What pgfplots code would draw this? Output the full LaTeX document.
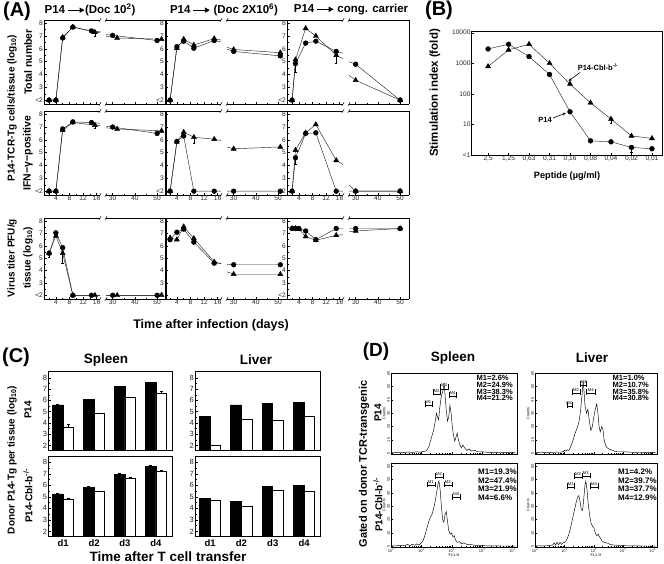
\documentclass[border=0pt]{standalone}
\usepackage{fontspec}
\setmainfont{Liberation Sans}
\usepackage{pgfplots}
\pgfplotsset{compat=1.18}
\usetikzlibrary{arrows.meta}

\newcommand{\fs}[1]{\fontsize{#1}{#1}\selectfont}
\newcommand{\arr}{\tikz[baseline=-0.6ex]\draw[line width=1pt,-{Triangle[length=5pt,width=5pt]}] (0,0)--(17pt,0);}

\pgfplotsset{
  base/.style={scale only axis, anchor=north west,
    tick align=inside,
    axis line style={black, line width=0.5pt},
    tick style={black, line width=0.4pt},
    /pgf/number format/assume math mode=true,
    ticklabel style={font=\fs{6.6}, black!85, inner sep=1pt}},
  AL/.style={base, width=56pt, xmin=0.5, xmax=17, ymin=1.7, ymax=8.25,
    axis x line*=box, axis y line*=left,
    x axis line style={-}, y axis line style={-},
    xtick={4,8,12,16}, minor xtick={2,6,10,14},
    ytick={2,...,8}, yticklabels={{<2},3,4,5,6,7,8}, minor y tick num=1,
    xtick pos=bottom, ytick pos=left,
    major tick length=2.5pt, minor tick length=1.5pt},
  AR/.style={base, width=60pt, xmin=27, xmax=54, ymin=1.7, ymax=8.25,
    axis x line*=box, axis y line*=right,
    x axis line style={-}, y axis line style={-},
    xtick={30,40,50}, minor xtick={35,45}, ytick=\empty,
    xtick pos=bottom,
    major tick length=2.5pt, minor tick length=1.5pt},
  cs/.style={black!85, line width=0.45pt, mark=*, mark size=2.4pt,
    mark options={solid, fill=black, draw=black},
    error bars/y dir=minus, error bars/y explicit,
    error bars/error bar style={black, line width=0.4pt},
    error bars/error mark options={rotate=90, mark size=1.2pt, black}},
  ts/.style={cs, mark=triangle*, mark size=2.9pt},
  Cb/.style={base, width=124pt, height=79pt, ymin=1.6, ymax=8.6,
    xmin=0.52, xmax=4.53, ybar, bar width=0.34,
    ytick={2,...,8}, minor y tick num=1, ytick pos=left, xtick=\empty,
    major tick length=2.5pt, minor tick length=1.5pt,
    ticklabel style={font=\fs{7.5}}},
  Cbot/.style={xtick={1,2,3,4}, xticklabels={d1,d2,d3,d4},
    xticklabel style={font=\fs{9.5}\bfseries, black}, xtick style={draw=none}},
  bk/.style={fill=black, draw=black, line width=0.5pt, bar shift=-0.17,
    error bars/y dir=plus, error bars/y explicit,
    error bars/error bar style={black, line width=0.4pt},
    error bars/error mark options={rotate=90, mark size=1.6pt, black}},
  wt/.style={bk, fill=white, bar shift=0.17},
  Db/.style={base, xmin=0, xmax=4.15,
    xtick={0,1,2,3,4},
    xticklabels={10\textsuperscript{0},10\textsuperscript{1},10\textsuperscript{2},10\textsuperscript{3},10\textsuperscript{4}},
    minor xtick={0.301,0.477,0.602,0.699,0.778,0.845,0.903,0.954,1.301,1.477,1.602,1.699,1.778,1.845,1.903,1.954,2.301,2.477,2.602,2.699,2.778,2.845,2.903,2.954,3.301,3.477,3.602,3.699,3.778,3.845,3.903,3.954},
    ytick={0,10,...,60}, minor y tick num=4,
    major tick length=2pt, minor tick length=1pt,
    xtick pos=bottom, ytick pos=left,
    ticklabel style={font=\fs{4}},
    yticklabel style={rotate=90, anchor=south},
    ylabel={Counts}, ylabel style={font=\fs{3.8}, yshift=-3pt}},
  Dtop/.style={Db, height=81pt, ymin=-0.7, ymax=60.3, xticklabels={}},
  Dbot/.style={Db, height=84pt, ymin=-0.5, ymax=62.5,
    xlabel={FL1-H}, xlabel style={font=\fs{3.8}, yshift=3pt}},
  hist/.style={black, line width=0.45pt, mark=none},
}

% one column of panel A: left part (days) and right part (late days), broken x axis
\newcommand{\Apair}[6]{%
  \begin{axis}[AL, at={(#1pt,-#2pt)}, height=#3pt, #4]
    \addplot[cs] coordinates {#5};
    \addplot[ts] coordinates {#6};
  \end{axis}
  \begin{axis}[AR, at={(#1pt+62pt,-#2pt)}, height=#3pt, #4]
    \addplot[cs] coordinates {#5};
    \addplot[ts] coordinates {#6};
  \end{axis}
  \foreach \bx in {56pt,62pt} {
    \draw[line width=0.5pt] (#1pt+\bx-1.1pt,-#2pt-1.8pt) -- (#1pt+\bx+1.1pt,-#2pt+1.8pt);
    \draw[line width=0.5pt] (#1pt+\bx-1.1pt,-#2pt-#3pt-1.8pt) -- (#1pt+\bx+1.1pt,-#2pt-#3pt+1.8pt);
  }
}

% marker gate in panel D
\newcommand{\gate}[5]{%
  \draw[line width=0.35pt] (axis cs:#1,#4) -- (axis cs:#2,#4);
  \draw[line width=0.35pt] (axis cs:#1,#4) ++(0,-2.5pt) -- ++(0,5pt);
  \draw[line width=0.35pt] (axis cs:#2,#4) ++(0,-2.5pt) -- ++(0,5pt);
  \node[font=\fs{4.2}, inner sep=0.4pt, anchor=south, yshift=1.2pt] at (axis cs:#3,#4) {#5};
}

\begin{document}
\begin{tikzpicture}
\path[use as bounding box] (0pt,0pt) rectangle (664pt,-564pt);

% ---------------- Panel A ----------------
% P14 -> Doc 10^2
\Apair{44}{20}{84}{xticklabels={}}
  {(2,2) (4,2) (6,6.85) (9,7.7) (14.5,7.4) (30,7.05) (50,6.65)}
  {(2,2) (4,2) (6,6.9) (9,7.7) (15.5,7.3) +- (0,0.3) (32,6.85) (52,6.75)}
\Apair{44}{111}{84}{}
  {(2,2) (4,2) (6,6.85) (9,7.4) (14.5,7.35) (30,7.0) (50,6.5)}
  {(2,2) (4,2) (6,6.75) (9,7.35) (15.5,7.15) +- (0,0.25) (32,6.85) (52,6.7)}
\Apair{44}{218}{81}{}
  {(2,5.4) +- (0,0.35) (4,7.05) (6,5.85) (9,2) (14.5,2) (30,2) (50,2)}
  {(2,5.4) (4,6.8) (6,5.4) +- (0,0.8) (9,2) (15.5,2) (32,2) (52,2)}
% P14 -> Doc 2x10^6
\Apair{165}{20}{84}{xticklabels={}}
  {(2,2) (4,6.17) (6,6.6) (9,6.05) (15,6.65) (30,5.8) (51,5.45)}
  {(2,2) (4,6.05) (6,6.75) (9,6.3) (15,6.8) (30,5.95) (51,5.7)}
\Apair{165}{111}{84}{}
  {(2,2) (4,5.87) (6,6.3) (9,2) (15,2) (30,2) (51,2)}
  {(2,2) (4,5.85) (6,6.6) (9,6.2) +- (0,0.45) (15,6.05) (30,5.3) (51,5.45)}
\Apair{165}{218}{81}{}
  {(2,6.5) (4,7.1) (6,7.35) (9,6.3) (15,4.6) (30,4.47) (51,4.47)}
  {(2,6.65) (4,6.5) (6,7.55) (9,6.6) (15,4.7) (30,3.7) (51,3.7)}
% P14 -> congenic carrier
\Apair{287}{20}{84}{xticklabels={}}
  {(2,2) (3,4.85) +- (0,0.7) (6,6.45) (9,6.6) (15,5.8) (30,4.8) (50,2)}
  {(2,2) (3,5.15) (6,7.6) (9,7.0) (15,5.5) +- (0,0.6) (30,3.55) (50,2)}
\Apair{287}{111}{84}{}
  {(2,2) (3,4.6) +- (0,0.5) (6,6.5) (9,6.55) (15,2) (30,2) (50,2)}
  {(2,2) (3,5.2) (6,6.55) (9,7.2) (15,4.4) (30,2) (50,2)}
\Apair{287}{218}{81}{}
  {(2,7.4) (3,7.4) (4,7.4) (6,7.2) (9,6.5) (15,7.4) (30,7.4) (50,7.4)}
  {(2,7.4) (3,7.4) (4,7.35) (6,6.75) (9,6.45) (15,6.85) (30,7.2) (50,7.4)}

\node[font=\fs{20}\bfseries] at (17pt,-11pt) {(A)};
\node[font=\fs{11.5}\bfseries] at (90pt,-10pt) {P14\,\arr(Doc 10\textsuperscript{2})};
\node[font=\fs{11.5}\bfseries] at (224pt,-10pt) {P14\,\arr\ (Doc 2X10\textsuperscript{6})};
\node[font=\fs{11.5}\bfseries] at (351pt,-10pt) {P14\,\arr\ cong. carrier};
\node[rotate=90, font=\fs{10.5}\bfseries] at (28pt,-62pt) {Total number};
\node[rotate=90, font=\fs{10.5}\bfseries] at (28pt,-153pt) {IFN−γ−positive};
\node[rotate=90, font=\fs{10}\bfseries] at (12pt,-108pt) {P14-TCR-Tg cells/tissue (log\textsubscript{10})};
\node[rotate=90, font=\fs{10}\bfseries] at (12pt,-258pt) {Virus titer PFU/g};
\node[rotate=90, font=\fs{10}\bfseries] at (28pt,-258pt) {tissue (log\textsubscript{10})};
\node[font=\fs{12.5}\bfseries] at (211pt,-325pt) {Time after infection (days)};

% ---------------- Panel B ----------------
\begin{axis}[base, at={(471.7pt,-31.7pt)}, width=190.5pt, height=123.3pt,
  ymode=log, ymin=1, ymax=10800, xmin=-0.8, xmax=8.5,
  xtick={0,...,8},
  xticklabels={{2,5},{1,25},{0,63},{0,31},{0,16},{0,08},{0,04},{0,02},{0,01}},
  ytick={1,10,100,1000,10000}, yticklabels={{<1},10,100,1000,10000},
  yminorticks=false, xtick pos=bottom, ytick pos=left, major tick length=2.5pt,
  ticklabel style={font=\fs{6.6}}]
\addplot[cs] coordinates {(0,2950) (1,4200) (2,1660) (3,430) (4,26) (5,2.9) (6,2.7) (7,1.77) +- (0,0.55) (8,1.6)};
\addplot[ts] coordinates {(0,790) (1,2750) (2,4200) (3,1000) (4,210) (5,51) (6,15) +- (0,4) (7,4.2) (8,3.5)};
\end{axis}
\node[font=\fs{20}\bfseries] at (439pt,-10pt) {(B)};
\node[rotate=90, font=\fs{11.5}\bfseries] at (435pt,-93pt) {Stimulation index (fold)};
\node[font=\fs{9.2}\bfseries] at (567pt,-176pt) {Peptide (µg/ml)};
\node[font=\fs{7.5}\bfseries] at (598pt,-67pt) {P14-Cbl-b\textsuperscript{-/-}};
\draw[line width=0.6pt,-{Stealth[length=3.5pt,width=3pt]}] (580pt,-72.5pt) -- (568.5pt,-81pt);
\node[font=\fs{7.5}\bfseries] at (545pt,-120pt) {P14};
\draw[line width=0.6pt,-{Stealth[length=3.5pt,width=3pt]}] (553pt,-118pt) -- (566pt,-113pt);

% ---------------- Panel C ----------------
\begin{axis}[Cb, at={(48.3pt,-371pt)}]
\addplot[bk] coordinates {(1,5.6) +- (0,0.05) (2,6.1) (3,7.25) (4,7.6)};
\addplot[wt] coordinates {(1,3.65) +- (0,0.2) (2,4.85) +- (0,0.05) (3,6.3) (4,6.65) +- (0,0.2)};
\end{axis}
\begin{axis}[Cb, at={(195pt,-371pt)}, width=125.7pt]
\addplot[bk] coordinates {(1,4.6) (2,5.6) (3,5.7) (4,5.8)};
\addplot[wt] coordinates {(1,2.0) (2,4.3) (3,4.2) (4,4.6)};
\end{axis}
\begin{axis}[Cb, Cbot, at={(48.3pt,-456pt)}, height=80pt, ymax=8.55]
\addplot[bk] coordinates {(1,5.25) +- (0,0.07) (2,5.85) +- (0,0.04) (3,6.95) +- (0,0.07) (4,7.65) +- (0,0.07)};
\addplot[wt] coordinates {(1,4.8) +- (0,0.07) (2,5.5) (3,6.65) +- (0,0.07) (4,7.25) +- (0,0.08)};
\end{axis}
\begin{axis}[Cb, Cbot, at={(195pt,-456pt)}, width=125.7pt, height=80pt, ymax=8.55]
\addplot[bk] coordinates {(1,4.9) (2,4.6) (3,5.9) (4,6.0)};
\addplot[wt] coordinates {(1,4.7) (2,4.2) (3,5.55) (4,5.5)};
\end{axis}
\node[font=\fs{20}\bfseries] at (16pt,-357pt) {(C)};
\node[font=\fs{13.5}\bfseries] at (106pt,-360pt) {Spleen};
\node[font=\fs{13.5}\bfseries] at (256pt,-360pt) {Liver};
\node[rotate=90, font=\fs{10}\bfseries] at (12pt,-460pt) {Donor P14-Tg per tissue (log\textsubscript{10})};
\node[rotate=90, font=\fs{10}\bfseries] at (28pt,-410pt) {P14};
\node[rotate=90, font=\fs{10}\bfseries] at (28pt,-496pt) {P14-Cbl-b\textsuperscript{-/-}};
\node[font=\fs{13.5}\bfseries] at (168pt,-557pt) {Time after T cell transfer};

% ---------------- Panel D ----------------
\begin{axis}[Dtop, at={(391pt,-373pt)}, width=126pt]
\addplot[hist] coordinates {(0,0.3) (0.2,0.6) (0.4,0.3) (0.55,0.8) (0.7,0.5) (0.85,1) (0.95,0.6) (1.05,1.2) (1.15,1.5) (1.2,3) (1.25,5) (1.3,9) (1.35,13) (1.4,17) (1.45,23) (1.5,30) (1.53,27) (1.57,25) (1.6,33) (1.65,42) (1.7,46) (1.75,52) (1.78,44) (1.82,32) (1.86,24) (1.9,27) (1.94,36) (1.98,30) (2.02,20) (2.06,13) (2.1,9) (2.14,12) (2.18,15) (2.22,10) (2.27,6) (2.32,4) (2.37,6) (2.42,4) (2.5,2) (2.57,3) (2.65,1.5) (2.75,2) (2.85,1) (3.0,1) (3.2,0.5) (3.5,0.5) (3.8,0.3) (4.1,0.3)};
\gate{1.12}{1.34}{1.23}{36}{M1}
\gate{1.38}{1.62}{1.50}{44.6}{M2}
\gate{1.62}{1.88}{1.75}{48.4}{M3}
\gate{1.90}{2.15}{2.03}{43}{M4}
\end{axis}
\begin{axis}[Dtop, at={(535pt,-373pt)}, width=122pt]
\addplot[hist] coordinates {(0,0.3) (0.3,0.5) (0.5,0.3) (0.7,0.8) (0.85,0.6) (0.95,1) (1.0,2) (1.05,1.5) (1.1,2.5) (1.15,2) (1.2,4) (1.25,7) (1.3,10) (1.35,14) (1.4,17) (1.45,20) (1.5,24) (1.55,32) (1.6,44) (1.64,54) (1.67,46) (1.7,36) (1.75,30) (1.8,33) (1.85,24) (1.9,17) (1.95,20) (2.0,27) (2.05,33) (2.1,37) (2.14,30) (2.18,20) (2.22,16) (2.27,20) (2.31,18) (2.35,10) (2.4,6) (2.45,4) (2.52,3) (2.6,2.5) (2.7,1.5) (2.8,1) (3.0,1) (3.3,0.6) (3.6,0.4) (4.1,0.3)};
\gate{1.09}{1.25}{1.17}{35}{M1}
\gate{1.25}{1.55}{1.40}{45}{M2}
\gate{1.55}{1.75}{1.65}{51}{M3}
\gate{1.75}{2.05}{1.90}{45}{M4}
\end{axis}
\begin{axis}[Dbot, at={(391pt,-463pt)}, width=126pt]
\addplot[hist] coordinates {(0,0.5) (0.15,0.3) (0.3,0.8) (0.45,0.5) (0.55,1.5) (0.62,0.5) (0.7,1.5) (0.78,0.8) (0.85,1.8) (0.92,1) (1.0,2.5) (1.05,4) (1.1,7) (1.15,11) (1.2,15) (1.25,19) (1.3,22) (1.35,24) (1.4,28) (1.45,33) (1.5,40) (1.55,47) (1.58,49) (1.62,42) (1.66,30) (1.7,20) (1.74,18) (1.78,24) (1.82,26) (1.86,19) (1.9,12) (1.95,9) (2.0,10) (2.04,7) (2.08,8) (2.12,5) (2.18,3) (2.25,3.5) (2.32,2) (2.4,2.5) (2.5,1.5) (2.6,1.5) (2.7,1) (2.85,0.6) (3.0,0.5) (3.4,0.3) (4.1,0.2)};
\gate{1.19}{1.44}{1.31}{45.7}{M1}
\gate{1.44}{1.72}{1.58}{52}{M2}
\gate{1.74}{2.00}{1.87}{45.7}{M3}
\gate{2.02}{2.28}{2.15}{36.5}{M4}
\end{axis}
\begin{axis}[Dbot, at={(535pt,-463pt)}, width=122pt]
\addplot[hist] coordinates {(0,0.3) (0.3,0.4) (0.5,0.5) (0.6,1) (0.65,2.5) (0.7,1) (0.75,3) (0.8,1.2) (0.85,3) (0.9,1.5) (0.95,2.5) (1.0,3) (1.05,4) (1.1,6) (1.15,9) (1.2,13) (1.25,18) (1.3,23) (1.35,28) (1.4,33) (1.45,37) (1.49,38) (1.53,34) (1.57,28) (1.62,27) (1.66,36) (1.7,46) (1.73,49) (1.77,42) (1.81,32) (1.86,23) (1.91,17) (1.96,15) (2.0,14) (2.05,10) (2.1,8) (2.15,9) (2.2,7) (2.28,4) (2.35,3) (2.45,2.5) (2.55,1.5) (2.65,1) (2.8,0.8) (3.0,0.5) (3.4,0.3) (4.1,0.2)};
\gate{1.10}{1.34}{1.22}{44.5}{M1}
\gate{1.34}{1.59}{1.46}{52}{M2}
\gate{1.59}{1.87}{1.73}{52.5}{M3}
\gate{1.87}{2.15}{2.01}{44.5}{M4}
\end{axis}

\foreach \t [count=\i] in {M1=2.6\%,M2=24.9\%,M3=38.3\%,M4=21.2\%}
  \node[font=\fs{7.5}\bfseries, anchor=base west, inner sep=0pt] at (476.5pt,-374.3pt-6.6pt*\i) {\t};
\foreach \t [count=\i] in {M1=1.0\%,M2=10.7\%,M3=35.8\%,M4=30.8\%}
  \node[font=\fs{7.5}\bfseries, anchor=base west, inner sep=0pt] at (612.5pt,-374.3pt-6.6pt*\i) {\t};
\foreach \t [count=\i] in {M1=19.3\%,M2=47.4\%,M3=21.9\%,M4=6.6\%}
  \node[font=\fs{8}\bfseries, anchor=base west, inner sep=0pt] at (478pt,-466.2pt-8.5pt*\i) {\t};
\foreach \t [count=\i] in {M1=4.2\%,M2=39.7\%,M3=37.7\%,M4=12.9\%}
  \node[font=\fs{8}\bfseries, anchor=base west, inner sep=0pt] at (618pt,-466.2pt-8.5pt*\i) {\t};

\node[font=\fs{19}\bfseries] at (376pt,-352pt) {(D)};
\node[font=\fs{13.5}\bfseries] at (453pt,-358pt) {Spleen};
\node[font=\fs{13.5}\bfseries] at (592pt,-358pt) {Liver};
\node[rotate=90, font=\fs{11}\bfseries] at (364pt,-464pt) {Gated on donor TCR-transgenic};
\node[rotate=90, font=\fs{10}\bfseries] at (378pt,-413pt) {P14};
\node[rotate=90, font=\fs{10}\bfseries] at (378pt,-505pt) {P14-Cbl-b\textsuperscript{-/-}};
\end{tikzpicture}
\end{document}
